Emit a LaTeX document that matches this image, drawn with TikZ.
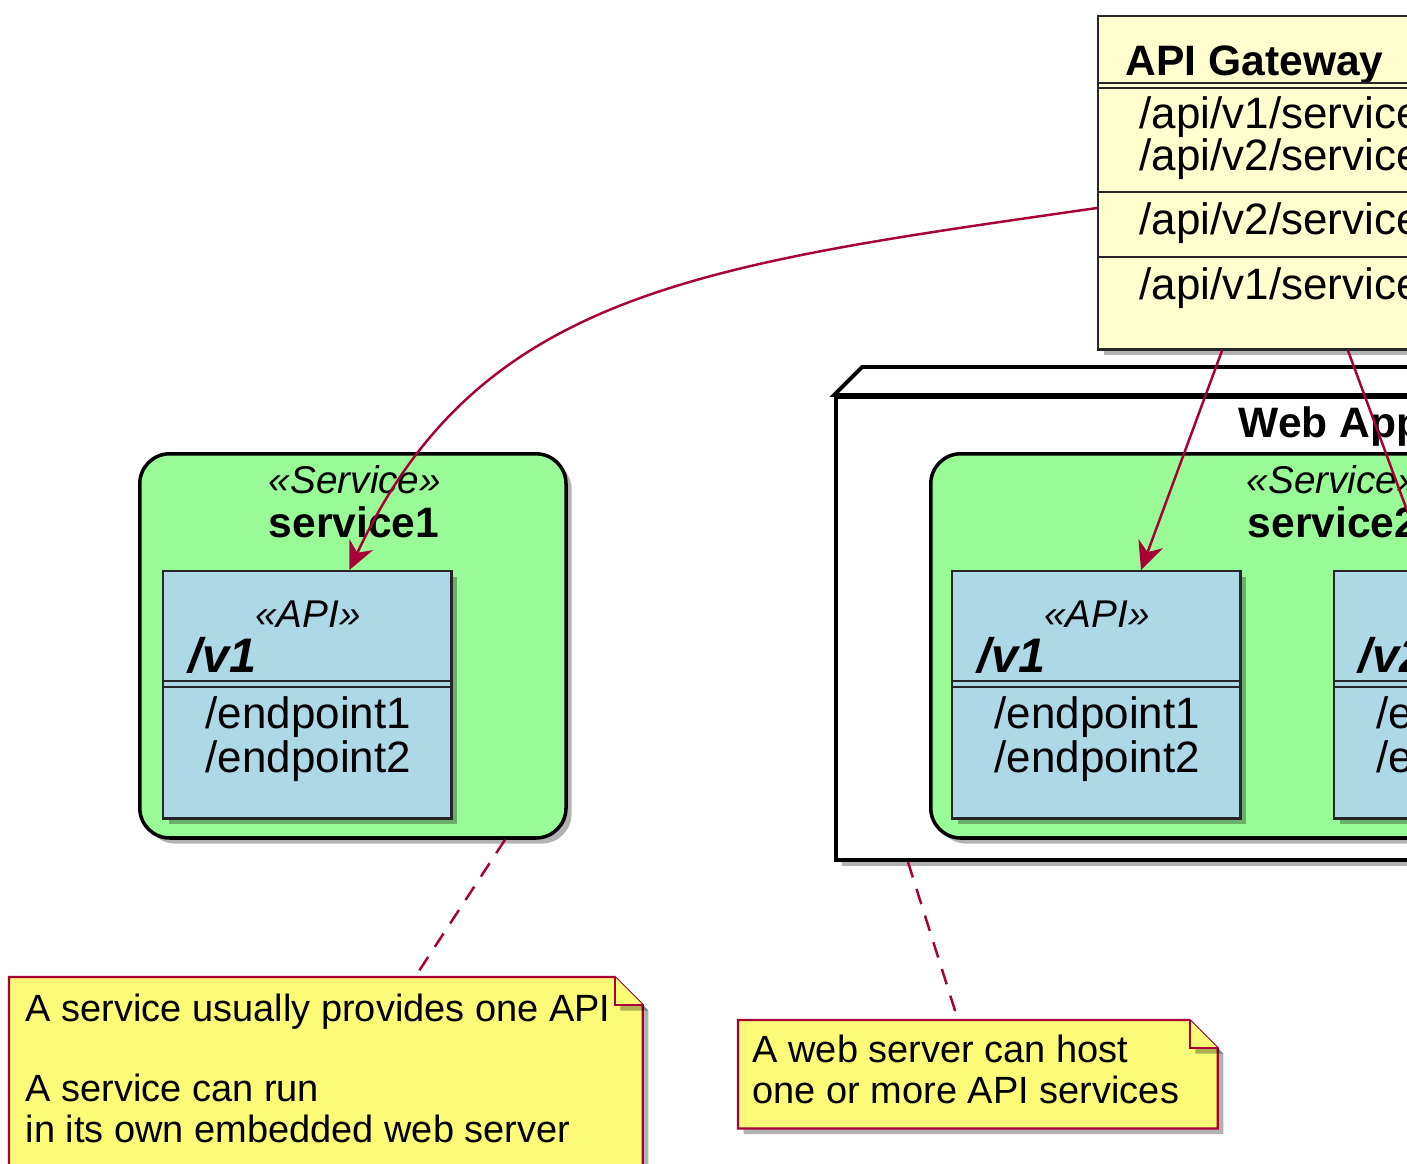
\documentclass[tikz,border=0pt]{standalone}
\usepackage{fontspec}
\setmainfont{Liberation Sans}
\definecolor{umlred}{HTML}{A80036}
\definecolor{classfill}{HTML}{FEFECE}
\definecolor{notefill}{HTML}{FBFB77}
\definecolor{palegreen}{HTML}{98FB98}
\definecolor{lightblue}{HTML}{ADD8E6}
\colorlet{linkcolor}{umlred}
\usetikzlibrary{
  arrows.meta,
  backgrounds,
  calc,
  positioning,
  shadows,
}
\tikzset{
  >={Stealth[length=2.8mm, width=2.6mm, inset=0.9mm]},
}

\begin{document}
\begin{tikzpicture}[x=0.01cm, y=-0.01cm,
    umlshadow/.style={drop shadow={shadow xshift=1.6pt, shadow yshift=-1.6pt,
                                   opacity=0.3, fill=black}},
    classbox/.style={draw=black!85, line width=0.7pt, fill=classfill,
                     anchor=north west, inner sep=0pt, umlshadow},
    hostbox/.style={draw=black, line width=1.1pt, fill=white,
                    anchor=north west, inner sep=0pt, umlshadow},
    servicebox/.style={draw=black, line width=1pt, fill=palegreen, rounded corners=3mm,
                       anchor=north west, inner sep=0pt, umlshadow},
    apibox/.style={draw=black!85, line width=0.7pt, fill=lightblue, anchor=north west,
                   inner sep=0pt, minimum width=2.88cm, minimum height=2.47cm, umlshadow},
    notebox/.style={anchor=north west, inner sep=0pt},
    noteedge/.style={draw=umlred, line width=0.6pt, fill=notefill, umlshadow},
    sepline/.style={draw=black!85, line width=0.7pt},
    titletext/.style={font=\bfseries\fontsize{12.1}{14}\selectfont, anchor=base west, inner sep=0pt},
    versiontext/.style={font=\bfseries\itshape\fontsize{13.8}{16}\selectfont, anchor=base west, inner sep=0pt},
    attrtext/.style={font=\fontsize{12.5}{14}\selectfont, anchor=base west, inner sep=0pt},
    stereotext/.style={font=\itshape\fontsize{11}{13}\selectfont, anchor=base, inner sep=0pt},
    notetext/.style={font=\fontsize{10.8}{11.4}\selectfont, align=left, anchor=base west, inner sep=0pt},
    gwlink/.style={->, draw=linkcolor, line width=0.7pt},
    notelink/.style={draw=linkcolor, line width=0.7pt, dash pattern=on 1.6mm off 1.2mm},
  ]
  \useasboundingbox (0,0) rectangle (1407,1163);
  \clip (0,0) rectangle (1407,1163);

  % web application server
  \node [hostbox, minimum width=9cm, minimum height=4.63cm] (webapp) at (834,395) {};
  \draw [draw=black, line width=1.1pt, fill=white] (webapp.north west) -- ++(28,-28)
        -- ($(webapp.north east)+(28,-28)$) -- (webapp.north east) -- cycle;
  \node [titletext] (webtitle) at (1238,437) {Web App};

  \node [servicebox, minimum width=8.08cm, minimum height=3.84cm] (service2) at (929,452) {};
  \node [stereotext, anchor=base west] at (1246,493) {«Service»};
  \node [titletext, anchor=base] at (1333,537) {service2};

  \node [apibox] (api2) at (951,570) {};
  \node [stereotext] at (1097,627) {«API»};
  \node [versiontext] at (977,672) {/v1};
  \draw [sepline] (api2.west |- 0,681) -- (api2.east |- 0,681);
  \draw [sepline] (api2.west |- 0,687) -- (api2.east |- 0,687);
  \node [attrtext] at (994,728) {/endpoint1};
  \node [attrtext] at (994,772) {/endpoint2};

  \node [apibox] (api3) at (1333,570) {};
  \node [versiontext] at (1358,672) {/v2};
  \draw [sepline] (api3.west |- 0,681) -- (api3.east |- 0,681);
  \draw [sepline] (api3.west |- 0,687) -- (api3.east |- 0,687);
  \node [attrtext] at (1376,728) {/endpoint1};
  \node [attrtext] at (1376,772) {/endpoint2};

  % standalone service
  \node [servicebox, minimum width=4.26cm, minimum height=3.84cm] (service1) at (138,452) {};
  \node [stereotext] at (355,493) {«Service»};
  \node [titletext, anchor=base] at (354,537) {service1};

  \node [apibox] (api1) at (162,570) {};
  \node [stereotext] at (308,627) {«API»};
  \node [versiontext] at (188,672) {/v1};
  \draw [sepline] (api1.west |- 0,681) -- (api1.east |- 0,681);
  \draw [sepline] (api1.west |- 0,687) -- (api1.east |- 0,687);
  \node [attrtext] at (205,728) {/endpoint1};
  \node [attrtext] at (205,772) {/endpoint2};

  % gateway
  \node [classbox, minimum width=4.2cm, minimum height=3.33cm] (gateway) at (1097,15) {};
  \node [titletext] at (1125,75) {API Gateway};
  \draw [sepline] (gateway.west |- 0,83) -- (gateway.east |- 0,83);
  \draw [sepline] (gateway.west |- 0,88) -- (gateway.east |- 0,88);
  \node [attrtext] at (1139,128) {/api/v1/service};
  \node [attrtext] at (1139,170) {/api/v2/service};
  \draw [sepline] (gateway.west |- 0,192) -- (gateway.east |- 0,192);
  \node [attrtext] at (1139,234) {/api/v2/service};
  \draw [sepline] (gateway.west |- 0,257) -- (gateway.east |- 0,257);
  \node [attrtext] at (1139,299) {/api/v1/service};

  % notes
  \node [notebox, minimum width=6.32cm, minimum height=2.6cm] (note1) at (9,977) {};
  \draw [noteedge] (note1.north west) -- ($(note1.north east)+(-28,0)$)
        -- ($(note1.north east)+(0,28)$) -- (note1.south east) -- (note1.south west) -- cycle;
  \draw [noteedge] ($(note1.north east)+(-28,0)$) |- ($(note1.north east)+(0,28)$);
  \node [notetext] at (25,1142) {A service usually provides one API\\[11.4pt]
                                 A service can run\\in its own embedded web server};

  \node [notebox, minimum width=4.78cm, minimum height=1.07cm] (note2) at (738,1020) {};
  \draw [noteedge] (note2.north west) -- ($(note2.north east)+(-28,0)$)
        -- ($(note2.north east)+(0,28)$) -- (note2.south east) -- (note2.south west) -- cycle;
  \draw [noteedge] ($(note2.north east)+(-28,0)$) |- ($(note2.north east)+(0,28)$);
  \node [notetext] at (752,1103) {A web server can host\\one or more API services};

  % connectors
  \draw [gwlink] ($(gateway.north west)+(0,193)$) .. controls +(-397,57) and +(130,-278)
        .. ($(api1.north)+(42,0)$);
  \draw [gwlink] ($(gateway.south west)+(125,0)$) -- ($(api2.north west)+(190,0)$);
  \draw [gwlink] ($(gateway.south west)+(251,0)$) -- ($(api3.north west)+(96,0)$);
  \draw [notelink] ($(service1.south west)+(367,0)$) -- ($(note1.north west)+(406,0)$);
  \draw [notelink] ($(webapp.south west)+(74,0)$) -- ($(note2.north west)+(220,0)$);
\end{tikzpicture}
\end{document}
